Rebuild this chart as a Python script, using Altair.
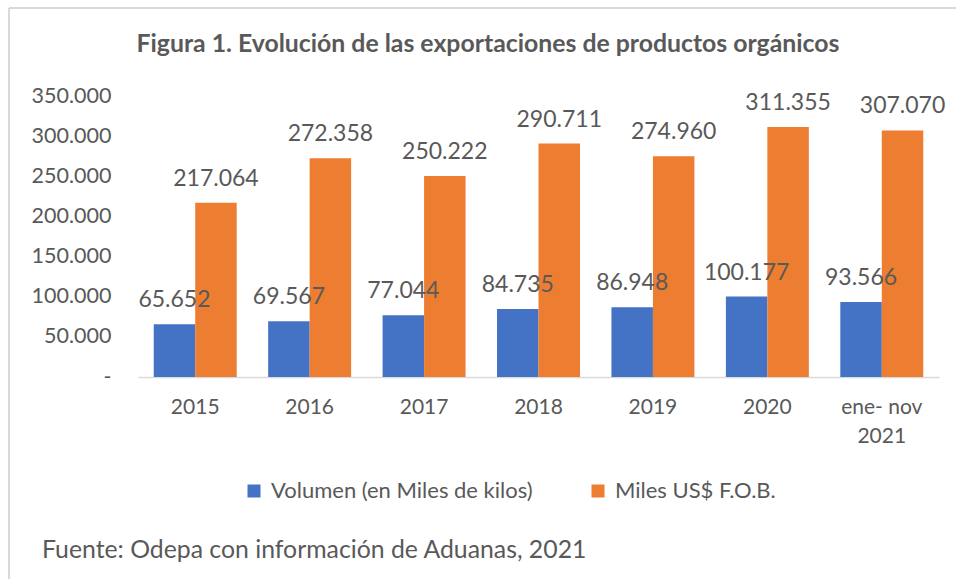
import altair as alt
import pandas as pd

categories = ["2015", "2016", "2017", "2018", "2019", "2020", "ene- nov\n2021"]
volumen = [65652, 69567, 77044, 84735, 86948, 100177, 93566]
miles_usd = [217064, 272358, 250222, 290711, 274960, 311355, 307070]
series_names = ["Volumen (en Miles de kilos)", "Miles US$ F.O.B."]
series_colors = ["#4472C4", "#ED7D31"]
y_ticks = [0, 50000, 100000, 150000, 200000, 250000, 300000, 350000]
title_text = "Figura 1. Evolución de las exportaciones de productos orgánicos"
source_text = "Fuente: Odepa con información de Aduanas, 2021"

FONT = "Lato"
GRAY = "#595959"

rows = []
for c, v, m in zip(categories, volumen, miles_usd):
    rows.append({"cat": c, "series": series_names[0], "value": v})
    rows.append({"cat": c, "series": series_names[1], "value": m})
df = pd.DataFrame(rows)

x_enc = alt.X(
    "cat:N",
    sort=categories,
    scale=alt.Scale(paddingInner=0.275, paddingOuter=0.1375),
    axis=alt.Axis(
        title=None, labelAngle=0,
        labelExpr="split(datum.label, '\\n')",
        labelFontSize=21, labelColor=GRAY, labelFont=FONT,
        labelPadding=19, labelLineHeight=29,
        ticks=False, domainColor="#D9D9D9", domainWidth=1.5,
    ),
)
xoff_enc = alt.XOffset("series:N", sort=series_names,
                       scale=alt.Scale(paddingInner=0, paddingOuter=0))
y_enc = alt.Y(
    "value:Q",
    scale=alt.Scale(domain=[0, 350000], nice=False),
    axis=alt.Axis(
        title=None, values=y_ticks, grid=False, domain=False, ticks=False,
        labelExpr="datum.value == 0 ? '-' : replace(format(datum.value, ',.0f'), ',', '.')",
        labelFontSize=21.5, labelColor=GRAY, labelFont=FONT, labelPadding=27,
    ),
)

base = alt.Chart(df)

bars = base.mark_bar().encode(
    x=x_enc,
    xOffset=xoff_enc,
    y=y_enc,
    color=alt.Color(
        "series:N", sort=series_names,
        scale=alt.Scale(domain=series_names, range=series_colors),
        legend=alt.Legend(
            title=None, orient="none", direction="horizontal",
            legendX=105, legendY=384,
            symbolType="square", symbolSize=169, symbolStrokeWidth=0,
            labelFontSize=22, labelColor=GRAY, labelFont=FONT, labelLimit=0,
            columnPadding=54, symbolOffset=0, labelOffset=6,
        ),
    ),
)

labels = base.transform_calculate(
    lbl="replace(format(datum.value, ',.0f'), ',', '.')"
).mark_text(
    baseline="alphabetic", dy=-17, fontSize=23, color=GRAY, font=FONT
).encode(
    x=alt.X("cat:N", sort=categories),
    xOffset=xoff_enc,
    y=alt.Y("value:Q"),
    text="lbl:N",
)

title = alt.Chart(pd.DataFrame({"t": [title_text]})).mark_text(
    align="center", baseline="middle", fontSize=24.8, fontWeight="bold",
    color=GRAY, font=FONT
).encode(
    x=alt.value(350), y=alt.value(-51), text="t:N"
)

source = alt.Chart(pd.DataFrame({"t": [source_text]})).mark_text(
    align="left", baseline="middle", fontSize=24.8, color=GRAY, font=FONT
).encode(
    x=alt.value(-96), y=alt.value(455), text="t:N"
)

border_left = alt.Chart(pd.DataFrame({"a": [0]})).mark_rule(
    color="#D9D9D9", strokeWidth=2
).encode(x=alt.value(-129), y=alt.value(-88), y2=alt.value(484))

border_top = alt.Chart(pd.DataFrame({"a": [0]})).mark_rule(
    color="#D9D9D9", strokeWidth=2
).encode(x=alt.value(-129), x2=alt.value(818), y=alt.value(-88))

chart = alt.layer(bars, labels, title, source, border_left, border_top).properties(
    width=801, height=281,
    autosize=alt.AutoSizeParams(type="none"),
    padding={"left": 138, "top": 96, "right": 17, "bottom": 202},
    background="white",
).configure_view(stroke=None)

chart.save("out.html", embed_options={"renderer": "svg", "actions": False})
